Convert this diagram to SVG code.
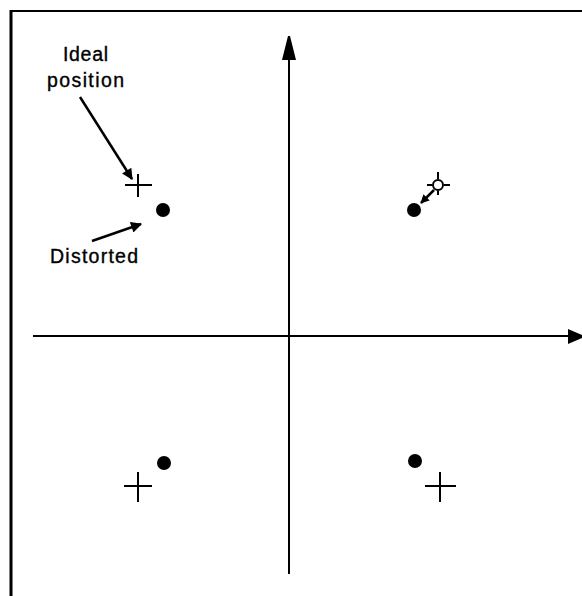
<svg xmlns="http://www.w3.org/2000/svg" width="582" height="596" viewBox="0 0 582 596">
<style>
.ln{stroke:#000;fill:none}
.lbl{font-family:"Liberation Sans",Arial,sans-serif;font-size:19.5px;fill:#000;stroke:#000;stroke-width:0.35}
.cr{stroke:#000;stroke-width:2;fill:none}
.dot{fill:#000}
</style>
<defs>
<marker id="ah" viewBox="0 0 10 10" refX="9" refY="5" markerWidth="7" markerHeight="4.4" markerUnits="strokeWidth" orient="auto">
<path d="M0,0 L10,5 L0,10 z" fill="#000"/>
</marker>
<marker id="ahs" viewBox="0 0 10 10" refX="9" refY="5" markerWidth="4.5" markerHeight="3.5" markerUnits="strokeWidth" orient="auto">
<path d="M0,0 L10,5 L0,10 z" fill="#000"/>
</marker>
</defs>
<rect width="582" height="596" fill="#fff"/>
<g id="frame">
<line class="ln" x1="10" y1="11" x2="582" y2="11" stroke-width="2"/>
<line class="ln" x1="11" y1="10" x2="11" y2="596" stroke-width="3"/>
</g>
<g id="axes">
<line class="ln" x1="33" y1="336" x2="572" y2="336" stroke-width="2"/>
<polygon points="568,329 582,335 582,338 568,344" fill="#000"/>
<line class="ln" x1="289" y1="574" x2="289" y2="56" stroke-width="2"/>
<polygon points="282,60 288,36 290,36 296,60" fill="#000"/>
</g>
<g id="q1">
<line class="cr" x1="125" y1="185" x2="152" y2="185"/>
<line class="cr" x1="138" y1="174" x2="138" y2="197"/>
<circle class="dot" cx="163" cy="210" r="7"/>
</g>
<g id="q2">
<circle cx="438" cy="185" r="5" fill="none" stroke="#000" stroke-width="2"/>
<line class="cr" x1="438" y1="172" x2="438" y2="179"/>
<line class="cr" x1="427" y1="185" x2="432" y2="185"/>
<line class="cr" x1="444" y1="185" x2="450" y2="185"/>
<line class="cr" x1="438" y1="191" x2="438" y2="195"/>
<circle class="dot" cx="414" cy="210" r="7"/>
</g>
<g id="q3">
<line class="cr" x1="124" y1="486" x2="152" y2="486"/>
<line class="cr" x1="138" y1="472" x2="138" y2="502"/>
<circle class="dot" cx="164" cy="463" r="7"/>
</g>
<g id="q4">
<line class="cr" x1="425" y1="486" x2="456" y2="486"/>
<line class="cr" x1="440" y1="472" x2="440" y2="502"/>
<circle class="dot" cx="415" cy="461" r="7"/>
</g>
<g id="labels">
<text class="lbl" x="63" y="61" textLength="45" lengthAdjust="spacing">Ideal</text>
<text class="lbl" x="47" y="87" textLength="77" lengthAdjust="spacing">position</text>
<text class="lbl" x="50" y="263" textLength="88" lengthAdjust="spacing">Distorted</text>
</g>
<g id="connectors">
<line class="ln" x1="80" y1="97" x2="132" y2="179" stroke-width="2.5" marker-end="url(#ah)"/>
<line class="ln" x1="92" y1="241" x2="141" y2="224" stroke-width="2.5" marker-end="url(#ah)"/>
<line class="ln" x1="434" y1="190" x2="421" y2="203" stroke-width="2.5" marker-end="url(#ahs)"/>
</g>
</svg>
